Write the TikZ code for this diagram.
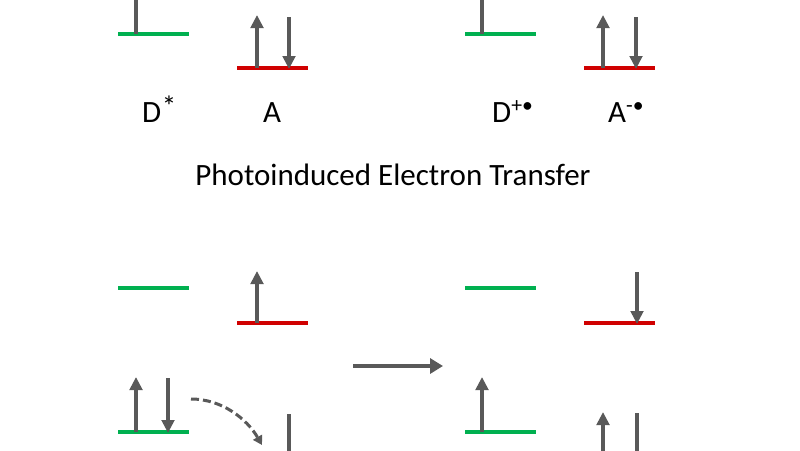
\documentclass[tikz,border=0pt]{standalone}
\usepackage{fontspec}
\setmainfont{Carlito}
\usetikzlibrary{arrows.meta}
\definecolor{lvgreen}{HTML}{00B050}
\definecolor{lvred}{HTML}{D00000}
\definecolor{spingray}{HTML}{595959}
\tikzset{
  glevel/.style={draw=lvgreen, line width=4pt},
  rlevel/.style={draw=lvred, line width=4.5pt},
  spin/.style={draw=spingray, line width=4pt, -{Triangle[width=12.5pt,length=13pt]}},
  bigarrow/.style={draw=spingray, line width=4pt, -{Triangle[width=15pt,length=13pt]}},
  transfer/.style={draw=spingray, line width=3pt, dash pattern=on 8pt off 4pt, -{Triangle[width=10pt,length=9pt]}},
  lbl/.style={font=\fontsize{31}{36}\selectfont, inner sep=0pt, anchor=base west},
}
\begin{document}
\begin{tikzpicture}[x=1pt,y=-1pt]
\clip (0,0) rectangle (800,450);
\fill[white] (0,0) rectangle (800,450);

% ---------- top left: D* and A ----------
\draw[glevel] (118,34) -- (189,34);
\draw[spin] (136,34) -- (136,-25);
\draw[rlevel] (237,68) -- (308,68);
\draw[spin] (257,68) -- (257,15);
\draw[spin] (289,17) -- (289,69);
\node[lbl] (dstar) at (142,122) {D\kern0.5pt{\fontsize{29}{29}\selectfont\raisebox{6pt}{*}}};
\node[lbl] (acc) at (263,122) {A};

% ---------- top right: D+. and A-. ----------
\draw[glevel] (465,34) -- (536,34);
\draw[spin] (482,34) -- (482,-25);
\draw[rlevel] (584,68) -- (655,68);
\draw[spin] (603,68) -- (603,15);
\draw[spin] (636,17) -- (636,69);
\node[lbl] (dplus) at (492,122) {D\textsuperscript{+•}};
\node[lbl] (aminus) at (608,122) {A\textsuperscript{-•}};

% ---------- title ----------
\node[font=\fontsize{31}{36}\selectfont, inner sep=0pt, anchor=base] (title) at (393,185) {Photoinduced Electron Transfer};

% ---------- bottom left ----------
\draw[glevel] (118,288) -- (189,288);
\draw[rlevel] (237,323) -- (308,323);
\draw[spin] (257,323) -- (257,271);
\draw[glevel] (118,432) -- (189,432);
\draw[spin] (136,432) -- (136,377);
\draw[spin] (168,378) -- (168,433);
\draw[transfer] (191,399) .. controls (222,399) and (247,419) .. (262,445);
\draw[rlevel] (237,467) -- (308,467);
\draw[spin] (289,414) -- (289,467);

% ---------- reaction arrow ----------
\coordinate (rs) at (353,366);
\coordinate (re) at (443,366);
\draw[bigarrow] (rs) -- (re);

% ---------- bottom right ----------
\draw[glevel] (465,288) -- (536,288);
\draw[rlevel] (584,323) -- (655,323);
\draw[spin] (637,272) -- (637,324);
\draw[glevel] (465,432) -- (536,432);
\draw[spin] (482,432) -- (482,377);
\draw[rlevel] (584,467) -- (655,467);
\draw[spin] (603,467) -- (603,412);
\draw[spin] (637,413) -- (637,467);
\end{tikzpicture}
\end{document}
